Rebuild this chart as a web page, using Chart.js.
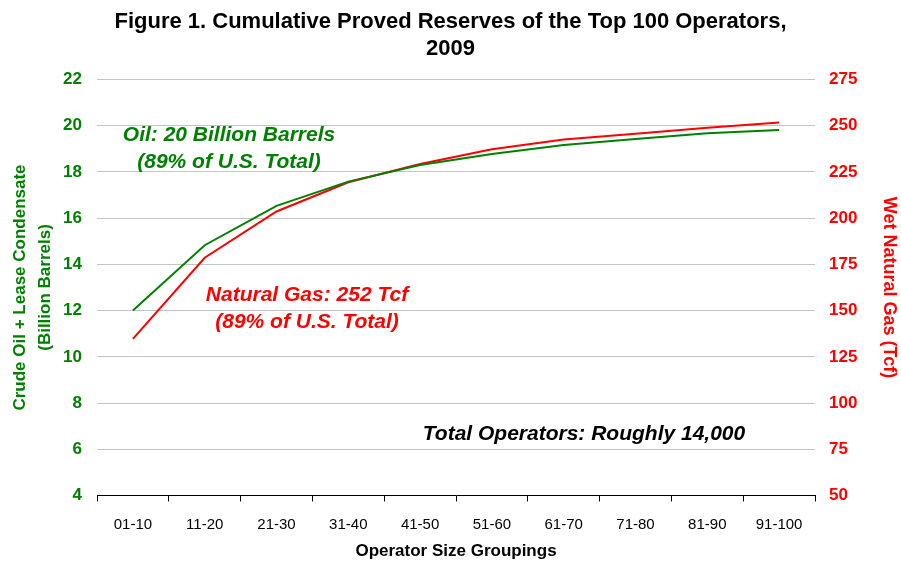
<!DOCTYPE html>
<html>
<head>
<meta charset="utf-8">
<script src="https://cdn.jsdelivr.net/npm/chart.js@4"></script>
<style>
  body { margin: 0; background: #fff; }
  canvas { display: block; }
</style>
</head>
<body>
<canvas id="myChart" width="901" height="564"></canvas>
<script>
const grupos = ['01-10', '11-20', '21-30', '31-40', '41-50', '51-60', '61-70', '71-80', '81-90', '91-100'];
const petroleo = [12.0, 14.83, 16.53, 17.58, 18.30, 18.78, 19.17, 19.42, 19.67, 19.81];
const gas = [134.7, 178.6, 203.6, 219.4, 229.3, 237.3, 242.6, 245.7, 248.9, 251.8];

const VERDE = '#008000';
const ROJO = '#ff0000';
const FUENTE = "'Liberation Sans', Arial, sans-serif";

// textos sueltos sobre el grafico
const notas = {
  id: 'notas',
  afterDatasetsDraw(chart) {
    const c = chart.ctx;
    c.save();
    c.textAlign = 'center';
    c.textBaseline = 'middle';
    c.font = 'italic bold 21px ' + FUENTE;
    c.fillStyle = VERDE;
    c.fillText('Oil: 20 Billion Barrels', 229, 135);
    c.fillText('(89% of U.S. Total)', 229, 162);
    c.fillStyle = ROJO;
    c.fillText('Natural Gas: 252 Tcf', 307, 295);
    c.fillText('(89% of U.S. Total)', 307, 322);
    c.fillStyle = '#000';
    c.fillText('Total Operators: Roughly 14,000', 584, 434);
    c.restore();
  }
};

const ctx = document.getElementById('myChart');

new Chart(ctx, {
  type: 'line',
  data: {
    labels: grupos,
    datasets: [{
      label: 'Oil',
      data: petroleo,
      borderColor: VERDE,
      backgroundColor: VERDE,
      borderWidth: 2,
      pointRadius: 0,
      tension: 0,
      yAxisID: 'y'
    }, {
      label: 'Gas',
      data: gas,
      borderColor: ROJO,
      backgroundColor: ROJO,
      borderWidth: 2,
      pointRadius: 0,
      tension: 0,
      yAxisID: 'y2'
    }]
  },
  options: {
    responsive: false,
    animation: false,
    layout: { padding: 0 },
    plugins: {
      legend: { display: false },
      tooltip: { enabled: false },
      title: {
        display: true,
        text: ['Figure 1. Cumulative Proved Reserves of the Top 100 Operators,', '2009'],
        color: '#000',
        font: { family: FUENTE, size: 22, weight: 'bold', lineHeight: 1.227 },
        padding: { top: 8.5, bottom: 17 }
      }
    },
    scales: {
      x: {
        offset: true,
        afterFit: (s) => { s.height = 68.5; },
        grid: { offset: true, drawOnChartArea: false, drawTicks: true, tickLength: 6, color: '#000' },
        border: { display: true, color: '#000', width: 1 },
        ticks: { color: '#000', padding: 14, font: { family: FUENTE, size: 15 } },
        title: {
          display: true,
          text: 'Operator Size Groupings',
          color: '#000',
          font: { family: FUENTE, size: 17, weight: 'bold', lineHeight: 1.2 },
          padding: { top: 0, bottom: 2 }
        }
      },
      y: {
        position: 'left',
        min: 4,
        max: 22,
        afterFit: (s) => { s.width = 97; },
        grid: { color: '#c4c4c4', drawTicks: false },
        border: { display: false },
        ticks: { stepSize: 2, color: VERDE, padding: 15, font: { family: FUENTE, size: 17, weight: 'bold' } },
        title: {
          display: true,
          text: ['Crude Oil + Lease Condensate', '(Billion Barrels)'],
          color: VERDE,
          font: { family: FUENTE, size: 17, weight: 'bold', lineHeight: 1.47 },
          padding: { top: 8, bottom: 0 }
        }
      },
      y2: {
        position: 'right',
        min: 50,
        max: 275,
        afterFit: (s) => { s.width = 86; },
        grid: { drawOnChartArea: false, drawTicks: false },
        border: { display: false },
        ticks: { stepSize: 25, color: ROJO, padding: 14, font: { family: FUENTE, size: 17, weight: 'bold' } },
        title: {
          display: true,
          text: 'Wet Natural Gas (Tcf)',
          color: ROJO,
          font: { family: FUENTE, size: 18, weight: 'bold', lineHeight: 1.2 },
          padding: { top: 1, bottom: 0 }
        }
      }
    }
  },
  plugins: [notas]
});
</script>
</body>
</html>
